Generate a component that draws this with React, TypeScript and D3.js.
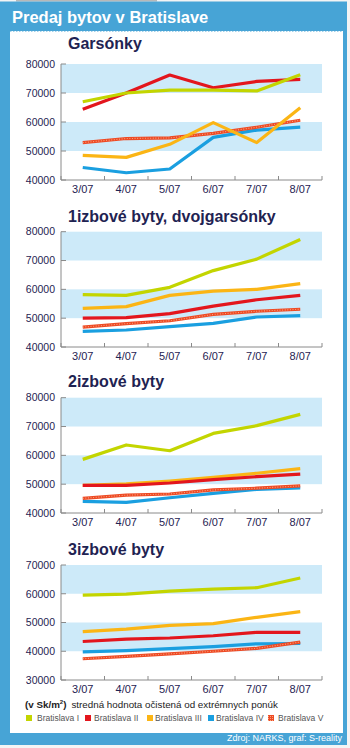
import React from "react";
import * as d3 from "d3";

const months = ["3/07", "4/07", "5/07", "6/07", "7/07", "8/07"];
const seriesNames = ["Bratislava I", "Bratislava II", "Bratislava III", "Bratislava IV", "Bratislava V"];

const panelTitles = ["Garsónky", "1izbové byty, dvojgarsónky", "2izbové byty", "3izbové byty"];
const yTicks1 = [40000, 50000, 60000, 70000, 80000];
const yTicks4 = [30000, 40000, 50000, 60000, 70000];

// Garsónky
const garI = [67000, 70000, 71000, 71000, 70700, 76300];
const garII = [64400, 70000, 76200, 71800, 74000, 74700];
const garIII = [48500, 47800, 52300, 59800, 52900, 64900];
const garIV = [44300, 42500, 43800, 54700, 57200, 58200];
const garV = [52900, 54300, 54500, 56100, 58200, 60600];

// 1izbové byty, dvojgarsónky
const izb1I = [58150, 57900, 60700, 66500, 70500, 77300];
const izb1II = [50050, 50200, 51600, 54200, 56400, 57900];
const izb1III = [53400, 54000, 57900, 59400, 60000, 62000];
const izb1IV = [45400, 45900, 47100, 48200, 50400, 50900];
const izb1V = [46900, 48100, 49100, 51300, 52400, 53100];

// 2izbové byty
const izb2I = [58600, 63600, 61600, 67600, 70300, 74200];
const izb2II = [49600, 49600, 50400, 51600, 52600, 53500];
const izb2III = [49600, 50100, 51100, 52400, 53800, 55400];
const izb2IV = [44000, 43700, 45300, 46800, 48200, 48700];
const izb2V = [45100, 46200, 46600, 48000, 48600, 49400];

// 3izbové byty
const izb3I = [59500, 59900, 60900, 61600, 62100, 65500];
const izb3II = [43400, 44200, 44600, 45400, 46600, 46600];
const izb3III = [46800, 47700, 49000, 49600, 51800, 53800];
const izb3IV = [39800, 40200, 40900, 41600, 42600, 42700];
const izb3V = [37400, 38200, 39100, 40000, 41000, 43200];

const panelData = [
  [garI, garII, garIII, garIV, garV],
  [izb1I, izb1II, izb1III, izb1IV, izb1V],
  [izb2I, izb2II, izb2III, izb2IV, izb2V],
  [izb3I, izb3II, izb3III, izb3IV, izb3V],
];
const panelTicks = [yTicks1, yTicks1, yTicks1, yTicks4];

// layout (pixels)
const layout = [
  { titleY: 49, top: 64, bottom: 180 },
  { titleY: 222, top: 231.7, bottom: 347 },
  { titleY: 386.7, top: 397.7, bottom: 513 },
  { titleY: 555, top: 565, bottom: 680 },
];
const plotLeft = 61;
const plotRight = 322;

const colors = ["#c3d500", "#e3161d", "#fbb515", "#1a9fe0", "#ee4a24"];
const navy = "#1f2352";
const frameBlue = "#47a4d6";
const bandBlue = "#cdeaf9";
const font = "'Liberation Sans', Arial, sans-serif";
const drawOrder = [3, 4, 2, 1, 0];

function Panel({ idx }: { idx: number }) {
  const L = layout[idx];
  const ticks = panelTicks[idx];
  const data = panelData[idx];
  const y = d3.scaleLinear().domain([ticks[0], ticks[ticks.length - 1]]).range([L.bottom, L.top]);
  const xb = d3.scaleBand().domain(months).range([plotLeft, plotRight]);
  const xc = (m: string) => (xb(m) as number) + xb.bandwidth() / 2;
  const line = d3
    .line<number>()
    .x((_, i) => xc(months[i]))
    .y((v) => y(v))
    .curve(d3.curveLinear);
  const bands: [number, number][] = [];
  for (let i = ticks.length - 1; i > 0; i -= 2) bands.push([ticks[i - 1], ticks[i]]);
  const boundaries = months.map((m) => xb(m) as number).concat([plotRight]);
  return (
    <g>
      <text x={68} y={L.titleY} fontFamily={font} fontWeight="bold" fontSize={16} fill={navy}>
        {panelTitles[idx]}
      </text>
      {bands.map(([a, b], i) => (
        <rect key={i} x={plotLeft} y={y(b)} width={plotRight - plotLeft} height={y(a) - y(b)} fill={bandBlue} />
      ))}
      <line x1={plotLeft} x2={plotLeft} y1={L.top} y2={L.bottom} stroke="#8a8a8a" strokeWidth={1} />
      <line x1={plotLeft} x2={plotRight} y1={L.bottom} y2={L.bottom} stroke="#8a8a8a" strokeWidth={1} />
      {ticks.map((t) => (
        <g key={t}>
          <line x1={plotLeft} x2={plotLeft + 5} y1={y(t)} y2={y(t)} stroke="#8a8a8a" strokeWidth={1} />
          <text x={55} y={y(t)} dy="0.36em" textAnchor="end" fontFamily={font} fontSize={10.5} fill={navy}>
            {t}
          </text>
        </g>
      ))}
      {boundaries.map((bx, i) => (
        <line key={i} x1={bx} x2={bx} y1={L.bottom} y2={L.bottom - 4} stroke="#8a8a8a" strokeWidth={1} />
      ))}
      {months.map((m) => (
        <text key={m} x={xc(m)} y={L.bottom + 13} textAnchor="middle" fontFamily={font} fontSize={11} fill={navy}>
          {m}
        </text>
      ))}
      {drawOrder.map((s) => (
        <g key={s}>
          <path d={line(data[s]) as string} fill="none" stroke={colors[s]} strokeWidth={3.2} strokeLinejoin="round" />
          {s === 4 && (
            <path
              d={line(data[s]) as string}
              fill="none"
              stroke="#f7a27e"
              strokeWidth={1.1}
              strokeDasharray="1 1.6"
            />
          )}
        </g>
      ))}
    </g>
  );
}

export default function App() {
  const legendX = [26, 85, 147, 208, 268];
  const legendTextX = [37, 94, 155, 216, 278];
  return (
    <svg
      width={350}
      height={748}
      style={{ position: "absolute", left: 0, top: 0, display: "block", background: "#ffffff" }}
    >
      <defs>
        <pattern id="dotsV" width="2" height="2" patternUnits="userSpaceOnUse">
          <rect width="2" height="2" fill="#ee4a24" />
          <rect width="1" height="1" fill="#f7a27e" />
        </pattern>
      </defs>
      <rect x={0} y={0} width={350} height={748} fill="#f4f4f4" />
      <rect x={16} y={0} width={141} height={1.5} fill="#b8b8b8" />
      <rect x={0} y={1.5} width={347} height={743.5} fill={frameBlue} />
      <rect x={10} y={31} width={333} height={702} fill="#ffffff" />
      <line x1={10} x2={343} y1={31.5} y2={31.5} stroke="#9fd0ea" strokeDasharray="1.5 1.5" />
      <text x={12} y={23} fontFamily={font} fontWeight="bold" fontSize={16.5} fill="#ffffff">
        Predaj bytov v Bratislave
      </text>
      {[0, 1, 2, 3].map((i) => (
        <Panel key={i} idx={i} />
      ))}
      <text x={25} y={708} fontFamily={font} fontSize={9.8} fill="#222">
        <tspan fontWeight="bold">(v Sk/m</tspan>
        <tspan fontWeight="bold" fontSize={6} dy={-4}>2</tspan>
        <tspan fontWeight="bold" dy={4}>)</tspan>
        <tspan dx={5}>stredná hodnota očistená od extrémnych ponúk</tspan>
      </text>
      {seriesNames.map((n, i) => (
        <g key={n}>
          <rect x={legendX[i]} y={715} width={6} height={6} fill={i === 4 ? "url(#dotsV)" : colors[i]} />
          <text x={legendTextX[i]} y={721} fontFamily={font} fontSize={8.5} fill="#555">
            {n}
          </text>
        </g>
      ))}
      <text x={342} y={741} textAnchor="end" fontFamily={font} fontSize={9} fill="#ffffff">
        Zdroj: NARKS, graf: S-reality
      </text>
    </svg>
  );
}
